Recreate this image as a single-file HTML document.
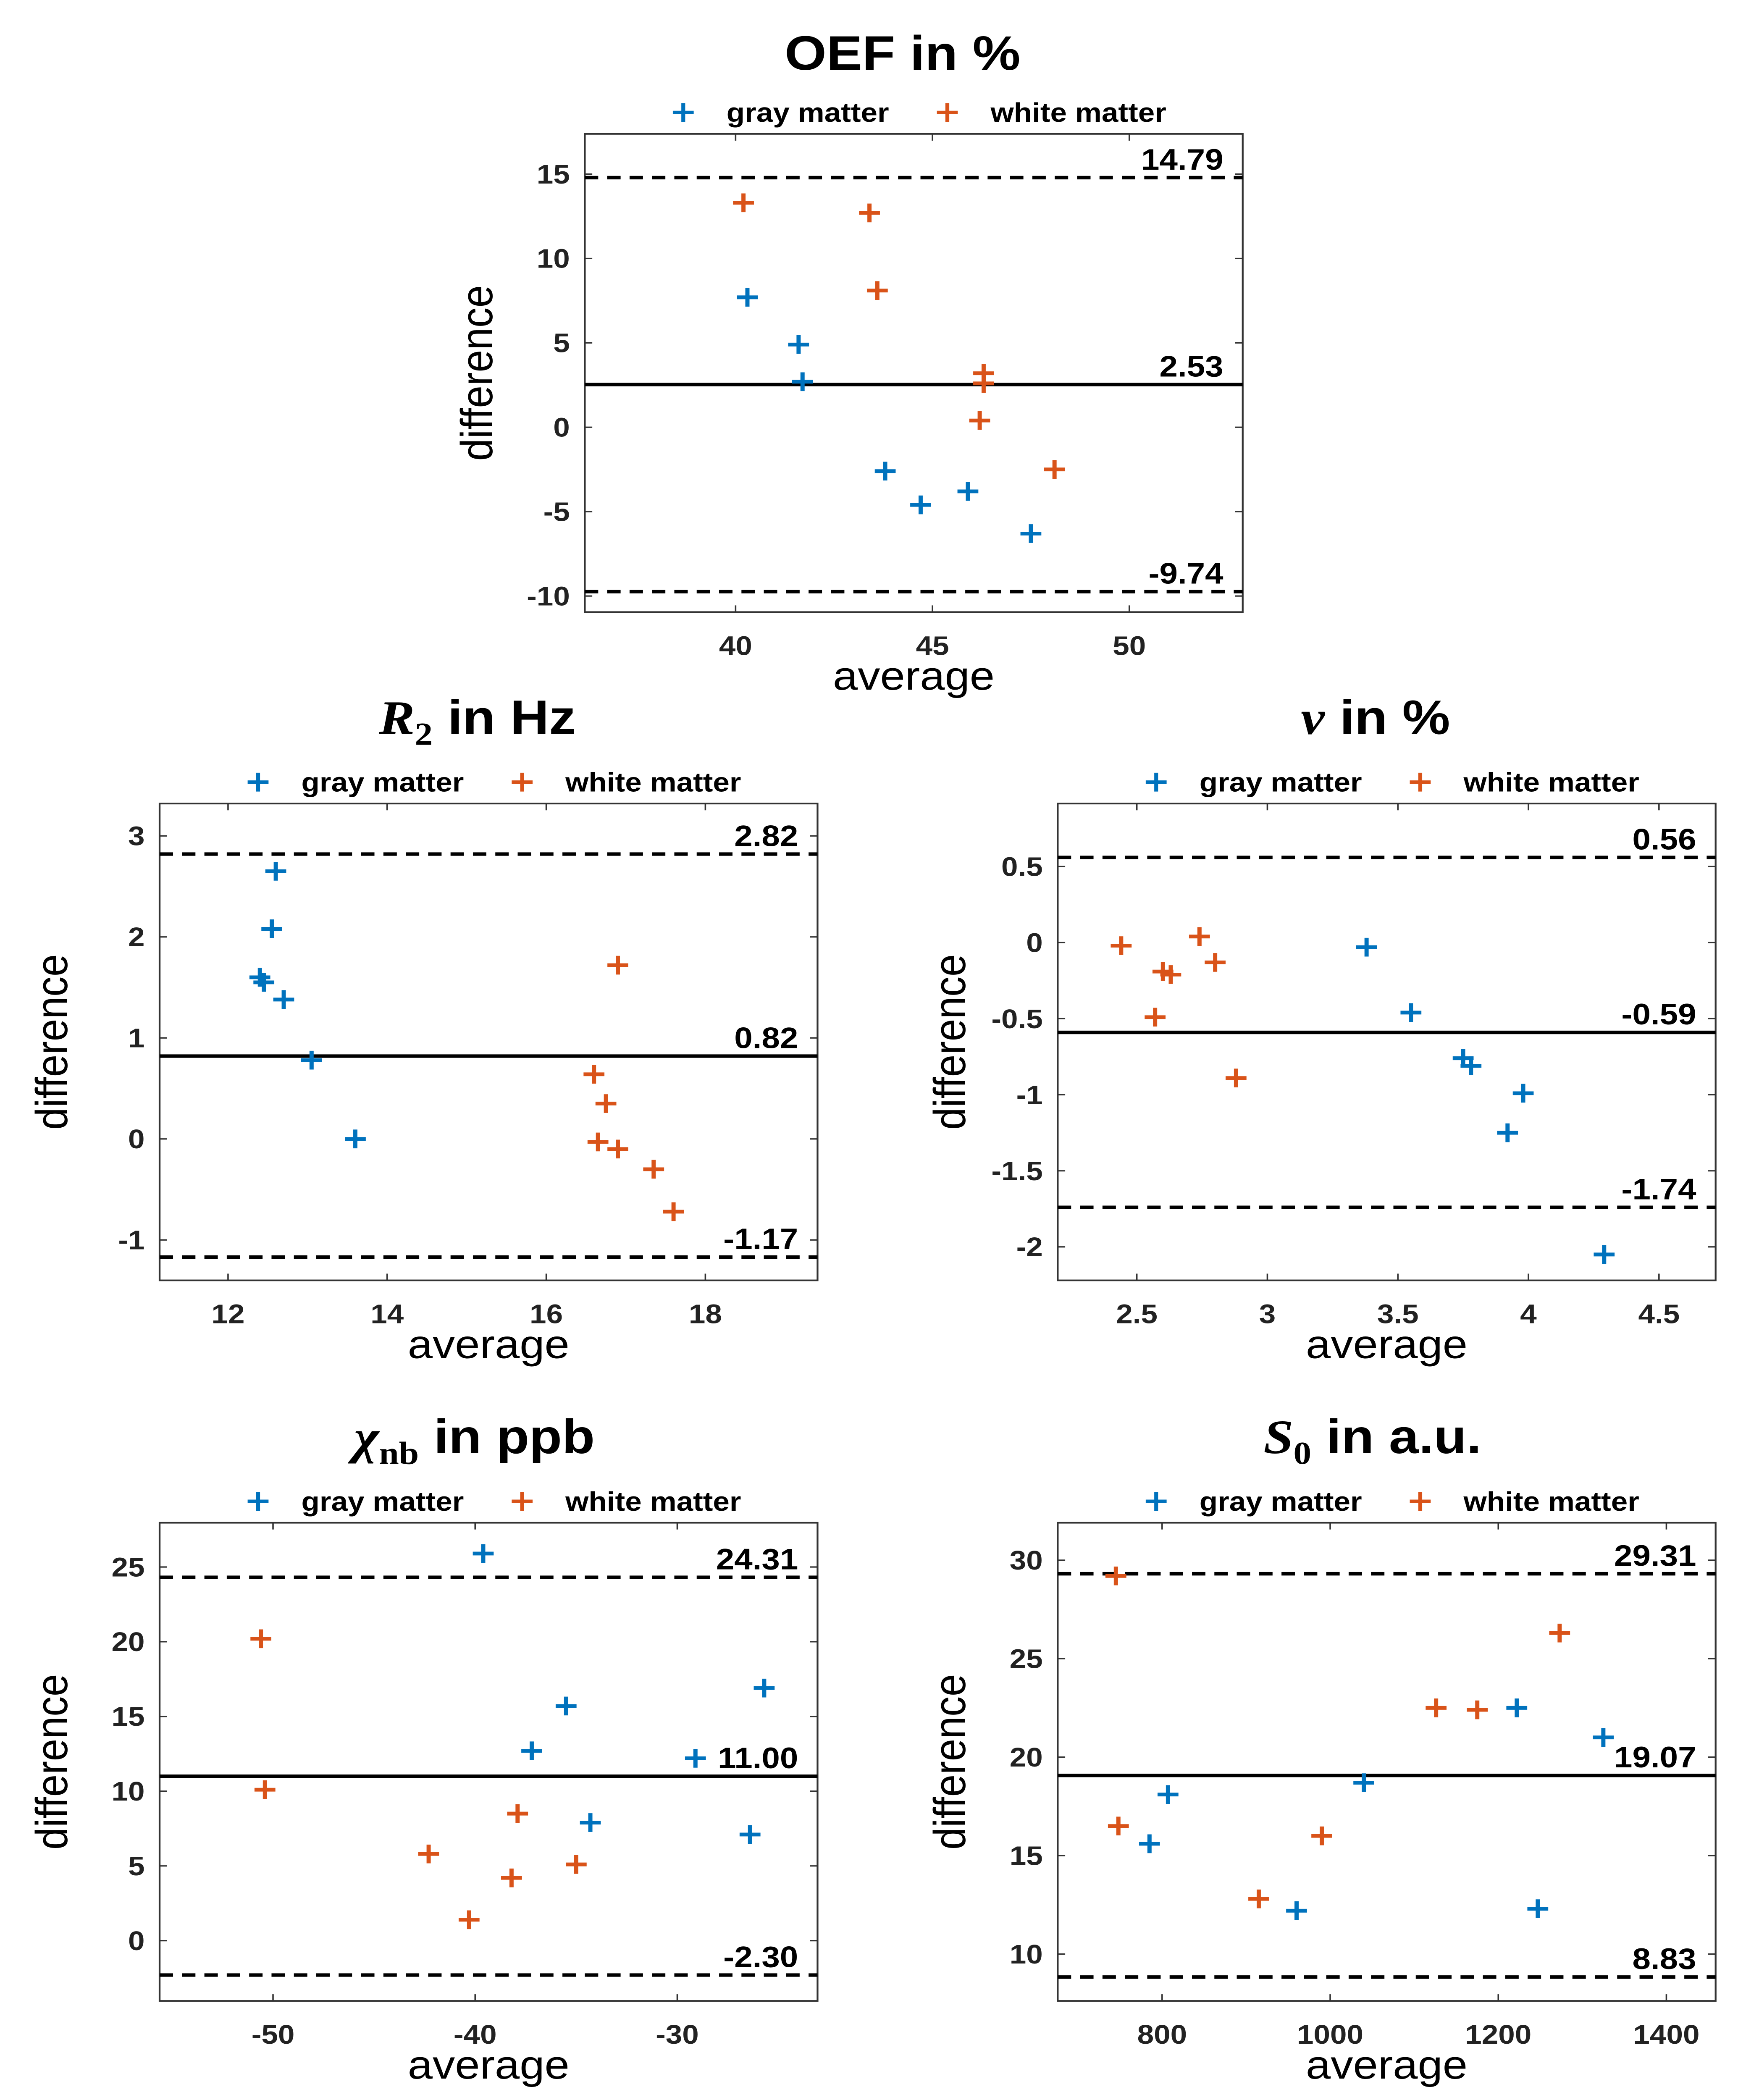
<!DOCTYPE html>
<html><head><meta charset="utf-8"><style>
html,body{margin:0;padding:0;background:#fff;width:100%;height:100%;overflow:hidden;}
svg{display:block;width:100vw;height:100vh;overflow:hidden;position:absolute;left:0;top:0;}
text{font-family:"Liberation Sans",sans-serif;}
</style></head><body>
<svg id="fig" xmlns="http://www.w3.org/2000/svg" viewBox="0 0 1165 1568" preserveAspectRatio="none">
<rect width="1165" height="1568" fill="#fff"/>
</svg>
<script>
// ---- data ----
const oefGrayX=[40.3,41.6,41.7,43.8,44.7,45.9,47.5];
const oefGrayY=[7.7,4.9,2.7,-2.6,-4.6,-3.8,-6.3];
const oefWhiteX=[40.2,43.4,43.6,46.3,46.3,46.2,48.1];
const oefWhiteY=[13.3,12.7,8.1,3.2,2.6,0.4,-2.5];
const oefLines=[14.79,2.53,-9.74];
const oefLineLabels=["14.79","2.53","-9.74"];
const oefXTicks=[40,45,50];
const oefYTicks=[15,10,5,0,-5,-10];

const r2GrayX=[12.6,12.55,12.4,12.45,12.7,13.05,13.6];
const r2GrayY=[2.65,2.08,1.6,1.55,1.38,0.78,0.0];
const r2WhiteX=[16.9,16.6,16.75,16.65,16.9,17.35,17.6];
const r2WhiteY=[1.72,0.64,0.35,-0.03,-0.1,-0.3,-0.72];
const r2Lines=[2.82,0.82,-1.17];
const r2LineLabels=["2.82","0.82","-1.17"];
const r2XTicks=[12,14,16,18];
const r2YTicks=[3,2,1,0,-1];

const nuGrayX=[3.38,3.55,3.75,3.78,3.98,3.92,4.29];
const nuGrayY=[-0.03,-0.46,-0.76,-0.81,-0.99,-1.25,-2.05];
const nuWhiteX=[2.44,2.74,2.60,2.63,2.80,2.57,2.88];
const nuWhiteY=[-0.02,0.04,-0.19,-0.21,-0.13,-0.49,-0.89];
const nuLines=[0.56,-0.59,-1.74];
const nuLineLabels=["0.56","-0.59","-1.74"];
const nuXTicks=[2.5,3,3.5,4,4.5];
const nuYTicks=[0.5,0,-0.5,-1,-1.5,-2];

const chiGrayX=[-39.6,-35.5,-37.2,-34.3,-29.1,-25.7,-26.4];
const chiGrayY=[25.9,15.7,12.7,7.9,12.2,16.9,7.1];
const chiWhiteX=[-50.6,-50.4,-42.3,-37.9,-38.2,-35.0,-40.3];
const chiWhiteY=[20.2,10.1,5.8,8.5,4.2,5.1,1.4];
const chiLines=[24.31,11.00,-2.30];
const chiLineLabels=["24.31","11.00","-2.30"];
const chiXTicks=[-50,-40,-30];
const chiYTicks=[25,20,15,10,5,0];

const s0GrayX=[785,807,960,1040,1222,1247,1325];
const s0GrayY=[15.6,18.1,12.2,18.7,22.5,12.3,21.0];
const s0WhiteX=[745,748,915,990,1126,1175,1273];
const s0WhiteY=[29.2,16.5,12.8,16.0,22.5,22.4,26.3];
const s0Lines=[29.31,19.07,8.83];
const s0LineLabels=["29.31","19.07","8.83"];
const s0XTicks=[800,1000,1200,1400];
const s0YTicks=[30,25,20,15,10];

const NS="http://www.w3.org/2000/svg";
const svg=document.getElementById('fig');
const BLUE="#0072BD", ORANGE="#D95319";
function mk(tag,attrs,parent,txt){const e=document.createElementNS(NS,tag);for(const k in attrs)e.setAttribute(k,attrs[k]);if(txt!==undefined)e.textContent=txt;(parent||svg).appendChild(e);return e;}

function panel(cfg){
  const g=mk('g',{});
  
  
  const {x0,x1,y0,y1,xmin,xmax,ymin,ymax}=cfg;
  const sx=v=>x0+(v-xmin)/(xmax-xmin)*(x1-x0);
  const sy=v=>y1-(v-ymin)/(ymax-ymin)*(y1-y0);
  const t=mk('text',{x:cfg.tx,y:cfg.ty,'text-anchor':'middle','font-size':36,'font-weight':'bold'},g);
  t.innerHTML=cfg.title;
  
  
  const lg=mk('g',{},g);
  
  
  const ly=y0-16;
  [[cfg.lx,BLUE,'gray matter'],[cfg.lx+177,ORANGE,'white matter']].forEach(([lx,c,l])=>{
    mk('path',{d:`M${lx-7},${ly}h14M${lx},${ly-7}v14`,stroke:c,'stroke-width':2.6,fill:'none'},lg);
    const tt=mk('text',{x:lx+29,y:ly+7,'font-size':20,'font-weight':'bold'},lg,l);
    
    
  });
  const box=mk('rect',{x:x0,y:y0,width:x1-x0,height:y1-y0,fill:'none',stroke:'#333','stroke-width':1.2},g);
  
  
  cfg.xt.forEach(v=>{const X=sx(v);mk('path',{d:`M${X},${y1}v-5M${X},${y0}v5`,stroke:'#333','stroke-width':1},g);
    const tl=mk('text',{x:X,y:y1+32,'text-anchor':'middle','font-size':20,'font-weight':'bold',fill:'#222'},g,String(v));
    });
  cfg.yt.forEach(v=>{const Y=sy(v);mk('path',{d:`M${x0},${Y}h5M${x1},${Y}h-5`,stroke:'#333','stroke-width':1},g);
    const tl=mk('text',{x:x0-10,y:Y+7,'text-anchor':'end','font-size':20,'font-weight':'bold',fill:'#222'},g,String(v));
    });
  cfg.lines.forEach((v,i)=>{const Y=sy(v);
    const ln=mk('line',{x1:x0,x2:x1,y1:Y,y2:Y,stroke:'#000','stroke-width':2.6,'stroke-dasharray':i===1?'none':'9,6'},g);
    
    
    const lt=mk('text',{x:x1-13,y:Y-6,'text-anchor':'end','font-size':22,'font-weight':'bold'},g,cfg.labels[i]);
    });
  const pts=(xs,ys,c,n)=>xs.forEach((v,i)=>{const X=sx(v),Y=sy(ys[i]);
    const p=mk('path',{d:`M${X-7},${Y}h14M${X},${Y-7}v14`,stroke:c,'stroke-width':2.8,fill:'none'},g);
    });
  pts(cfg.gx,cfg.gy,BLUE,'gray-matter-point');
  pts(cfg.wx,cfg.wy,ORANGE,'white-matter-point');
  const xl=mk('text',{x:(x0+x1)/2,y:y1+58,'text-anchor':'middle','font-size':30},g,'average');
  
  const yc=(y0+y1)/2, yx=x0-62;
  const yl=mk('text',{x:yx,y:yc,'text-anchor':'middle','font-size':30,transform:`rotate(-90 ${yx} ${yc})`},g,'difference');
  
}
const M='font-family="Liberation Serif,serif" font-style="italic"';
panel({name:'oef',x0:392,x1:833,y0:100,y1:457,xmin:36.17,xmax:52.88,ymin:-10.95,ymax:17.38,
  title:'OEF in %',tx:605,ty:52,lx:458,xt:oefXTicks,yt:oefYTicks,lines:oefLines,labels:oefLineLabels,
  gx:oefGrayX,gy:oefGrayY,wx:oefWhiteX,wy:oefWhiteY});
panel({name:'r2',x0:107,x1:548,y0:600,y1:956,xmin:11.14,xmax:19.41,ymin:-1.40,ymax:3.32,
  title:`<tspan ${M}>R</tspan><tspan font-family="Liberation Serif,serif" font-size="24" dy="8">2</tspan><tspan dy="-8"> in Hz</tspan>`,tx:320,ty:548,lx:173,
  xt:r2XTicks,yt:r2YTicks,lines:r2Lines,labels:r2LineLabels,gx:r2GrayX,gy:r2GrayY,wx:r2WhiteX,wy:r2WhiteY});
panel({name:'nu',x0:709,x1:1150,y0:600,y1:956,xmin:2.197,xmax:4.717,ymin:-2.22,ymax:0.914,
  title:`<tspan ${M}>ν</tspan> in %`,tx:922,ty:548,lx:775,
  xt:nuXTicks,yt:nuYTicks,lines:nuLines,labels:nuLineLabels,gx:nuGrayX,gy:nuGrayY,wx:nuWhiteX,wy:nuWhiteY});
panel({name:'chi',x0:107,x1:548,y0:1137,y1:1494,xmin:-55.61,xmax:-23.06,ymin:-4.03,ymax:27.96,
  title:`<tspan ${M}>χ</tspan><tspan font-family="Liberation Serif,serif" font-size="24" dy="8">nb</tspan><tspan dy="-8"> in ppb</tspan>`,tx:318,ty:1085,lx:173,
  xt:chiXTicks,yt:chiYTicks,lines:chiLines,labels:chiLineLabels,gx:chiGrayX,gy:chiGrayY,wx:chiWhiteX,wy:chiWhiteY});
panel({name:'s0',x0:709,x1:1150,y0:1137,y1:1494,xmin:675.8,xmax:1458.6,ymin:7.62,ymax:31.9,
  title:`<tspan ${M}>S</tspan><tspan font-family="Liberation Serif,serif" font-size="24" dy="8">0</tspan><tspan dy="-8"> in a.u.</tspan>`,tx:920,ty:1085,lx:775,
  xt:s0XTicks,yt:s0YTicks,lines:s0Lines,labels:s0LineLabels,gx:s0GrayX,gy:s0GrayY,wx:s0WhiteX,wy:s0WhiteY});
</script>
</body></html>
